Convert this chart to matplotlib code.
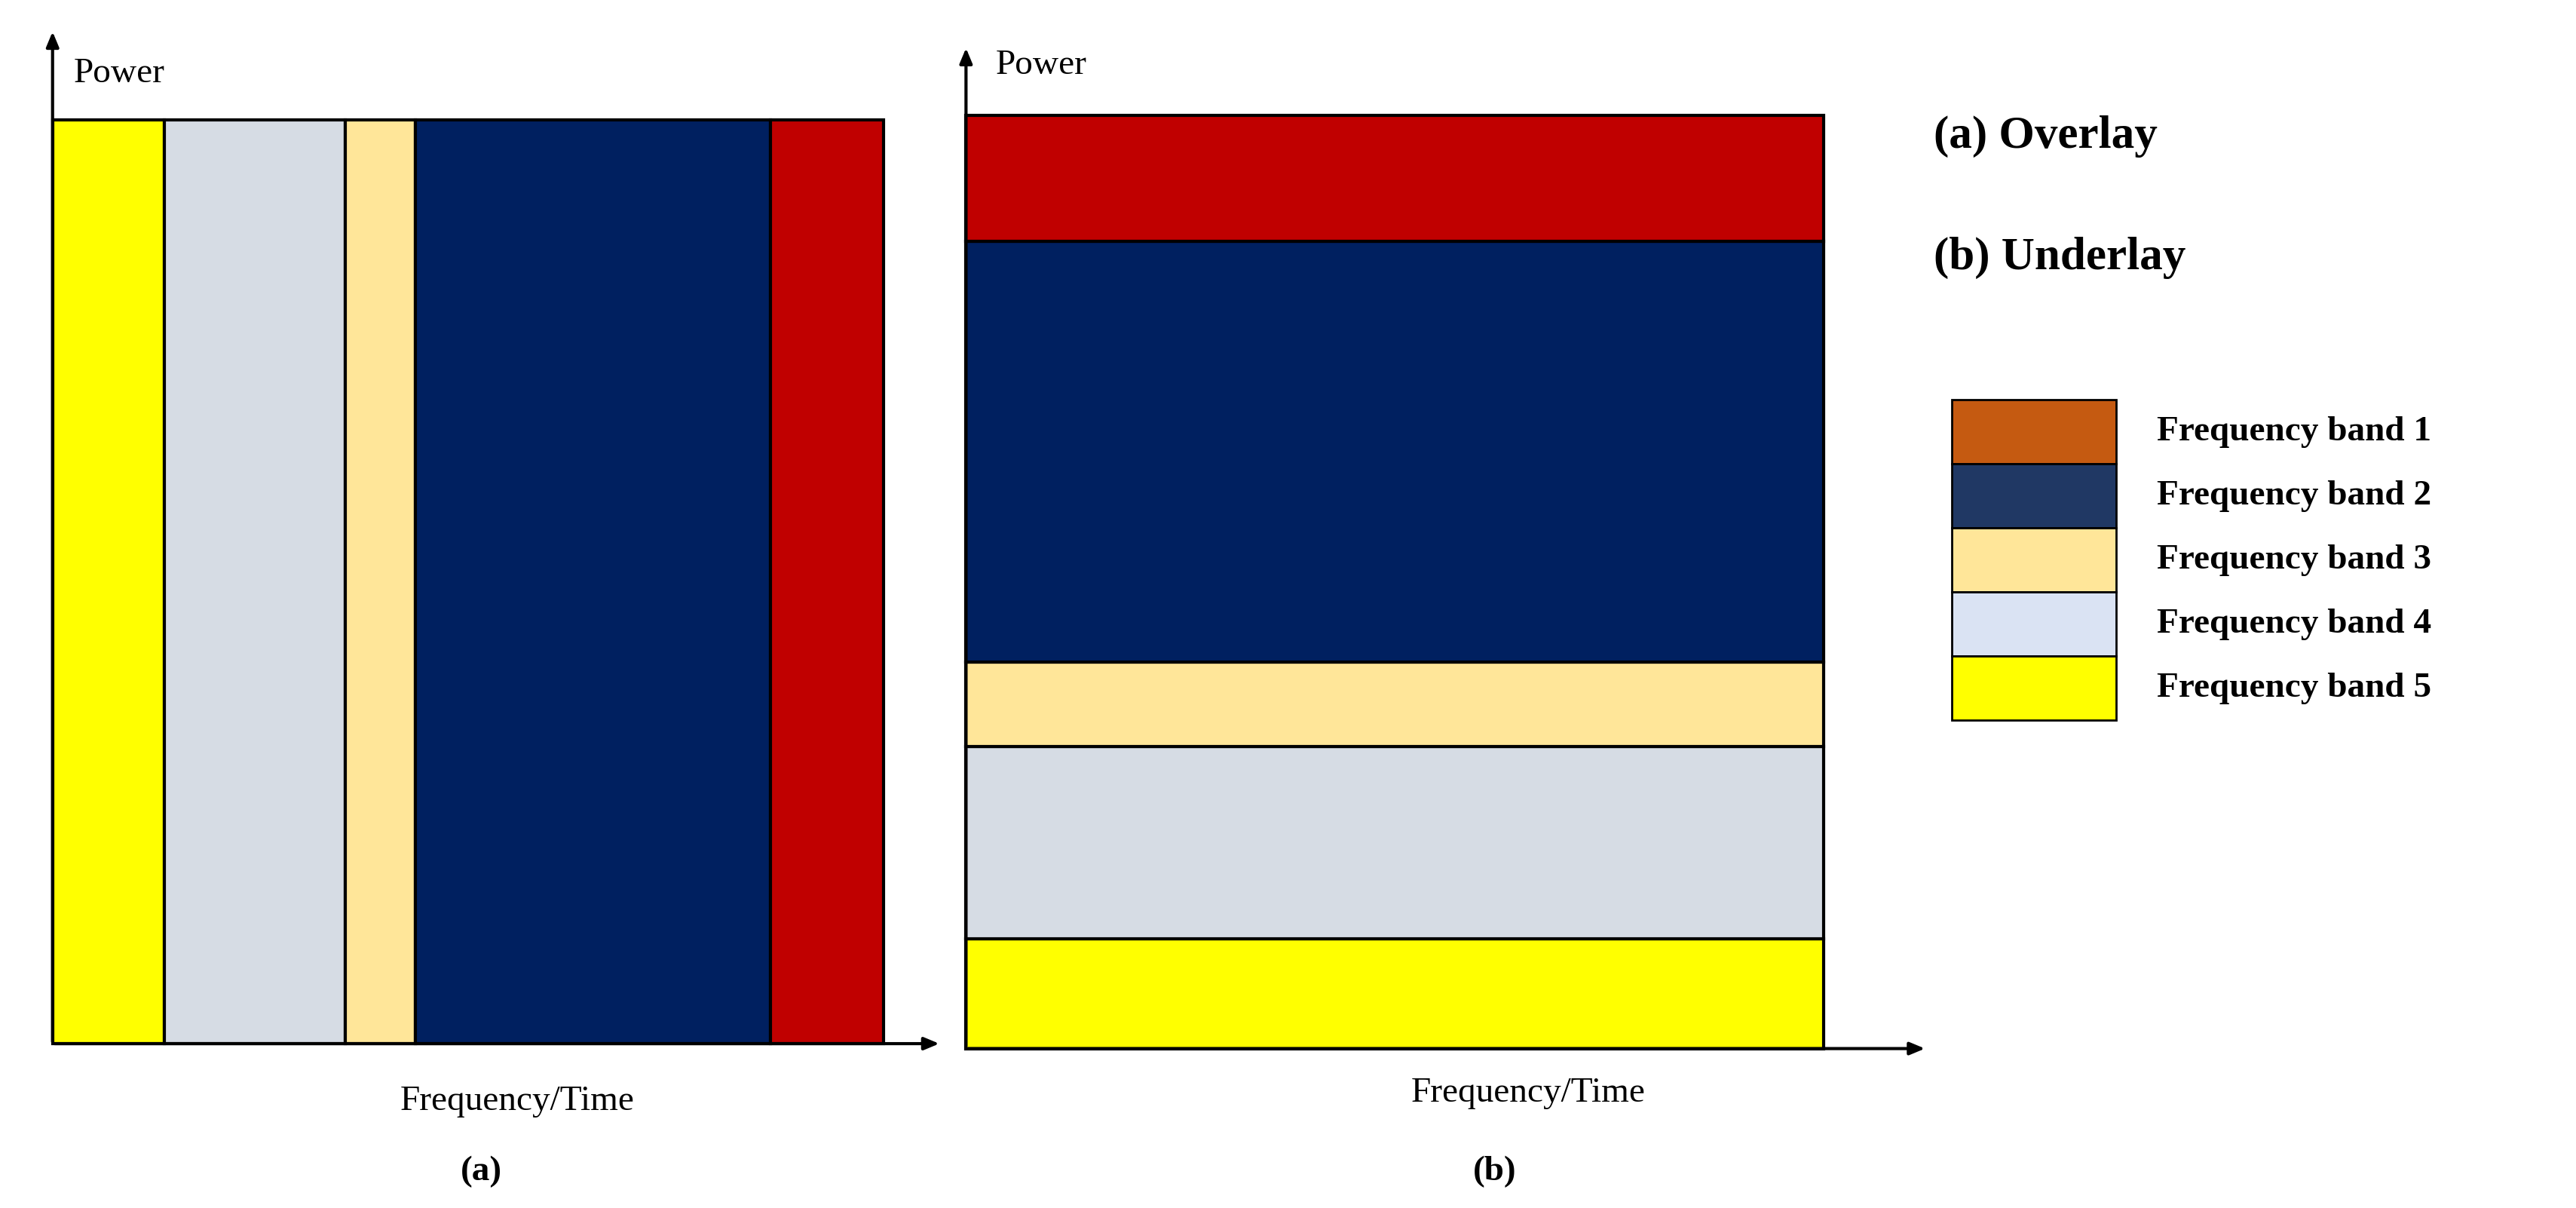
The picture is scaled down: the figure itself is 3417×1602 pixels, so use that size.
import matplotlib.pyplot as plt
from matplotlib.patches import Rectangle

plt.rcParams['font.family'] = ['Liberation Serif', 'DejaVu Serif']

# panel (a): bands across frequency/time, left to right (widths)
a_colors = ['#FFFF00', '#D6DCE4', '#FFE699', '#002060', '#C00000']
a_widths = [68, 110, 43, 216, 69]
# panel (b): bands stacked by power, bottom to top (heights)
b_colors = ['#FFFF00', '#D6DCE4', '#FFE699', '#002060', '#C00000']
b_heights = [67, 117, 51, 256, 77]

legend_labels = ['Frequency band 1', 'Frequency band 2', 'Frequency band 3',
                 'Frequency band 4', 'Frequency band 5']
legend_colors = ['#C55A11', '#203864', '#FFE699', '#DAE3F3', '#FFFF00']

W, H = 1568, 735
fig = plt.figure(figsize=(34.17, 16.02), dpi=100)
ax = fig.add_axes([0, 0, 1, 1])
ax.set_xlim(0, W)
ax.set_ylim(H, 0)
ax.axis('off')

lw = 3

# panel (a)
x0, top, bot = 32, 73, 635
x = x0
for c, w in zip(a_colors, a_widths):
    ax.add_patch(Rectangle((x, top), w, bot - top, facecolor=c, edgecolor='black', lw=lw))
    x += w
ax.annotate('', xy=(x0, 18), xytext=(x0, bot), arrowprops=dict(arrowstyle='-|>,head_width=0.5,head_length=1.2', lw=lw, color='black'))
ax.annotate('', xy=(573, bot), xytext=(x0, bot), arrowprops=dict(arrowstyle='-|>,head_width=0.5,head_length=1.2', lw=lw, color='black'))
ax.text(45, 45, 'Power', fontsize=34, va='center')
ax.text(315, 670, 'Frequency/Time', fontsize=34, ha='center', va='center')
ax.text(293, 713, '(a)', fontsize=34, ha='center', va='center', fontweight='bold')

# panel (b)
bx0, bx1, bbot = 588, 1110, 638
y = bbot
for c, h in zip(b_colors, b_heights):
    ax.add_patch(Rectangle((bx0, y - h), bx1 - bx0, h, facecolor=c, edgecolor='black', lw=lw))
    y -= h
ax.annotate('', xy=(bx0, 28), xytext=(bx0, bbot), arrowprops=dict(arrowstyle='-|>,head_width=0.5,head_length=1.2', lw=lw, color='black'))
ax.annotate('', xy=(1173, bbot), xytext=(bx0, bbot), arrowprops=dict(arrowstyle='-|>,head_width=0.5,head_length=1.2', lw=lw, color='black'))
ax.text(606, 40, 'Power', fontsize=34, va='center')
ax.text(930, 665, 'Frequency/Time', fontsize=34, ha='center', va='center')
ax.text(910, 713, '(b)', fontsize=34, ha='center', va='center', fontweight='bold')

# titles and legend
ax.text(1177, 83, '(a) Overlay', fontsize=44, fontweight='bold', va='center')
ax.text(1177, 157, '(b) Underlay', fontsize=44, fontweight='bold', va='center')
ly = 243
for lab, c in zip(legend_labels, legend_colors):
    ax.add_patch(Rectangle((1188, ly), 100, 39, facecolor=c, edgecolor='black', lw=2))
    ax.text(1313, ly + 20, lab, fontsize=34, fontweight='bold', va='center')
    ly += 39

fig.savefig('out.png', dpi=100)
